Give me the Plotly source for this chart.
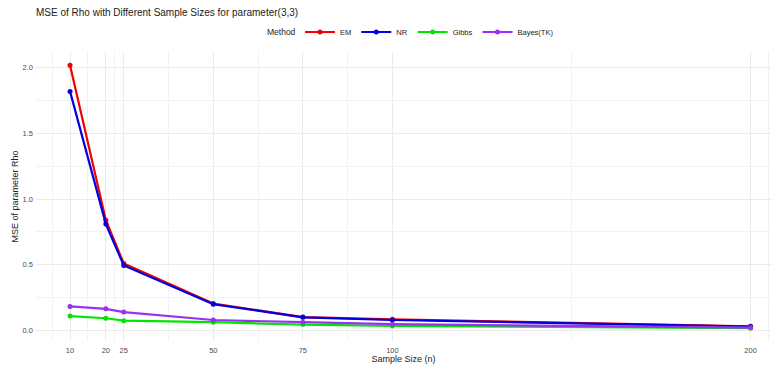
import plotly.graph_objects as go

# Sample sizes and MSE of rho for each estimation method
sample_sizes = [10, 20, 25, 50, 75, 100, 200]
mse_em = [2.02, 0.84, 0.51, 0.205, 0.102, 0.085, 0.032]
mse_nr = [1.82, 0.81, 0.495, 0.200, 0.100, 0.080, 0.030]
mse_gibbs = [0.11, 0.093, 0.075, 0.063, 0.045, 0.035, 0.018]
mse_bayes = [0.183, 0.165, 0.14, 0.08, 0.063, 0.048, 0.022]

methods = ["EM", "NR", "Gibbs", "Bayes(TK)"]
colors = ["#F00000", "#0000E0", "#00E600", "#9B30F0"]
series = [mse_em, mse_nr, mse_gibbs, mse_bayes]

x_ticks = [10, 20, 25, 50, 75, 100, 200]
x_minor = [5, 15, 22.5, 37.5, 62.5, 87.5, 150, 205]
y_ticks = [0.0, 0.5, 1.0, 1.5, 2.0]
y_minor = [0.25, 0.75, 1.25, 1.75]

font_family = "Liberation Sans, Arial, sans-serif"

W, H = 771, 367
L, R, T, B = 36, 0, 52, 26
plot_w, plot_h = W - L - R, H - T - B
legend_row_y = 1 + (T - 32) / plot_h  # legend row sits 32 px below the top edge

fig = go.Figure()
for name, col, vals in zip(methods, colors, series):
    fig.add_trace(go.Scatter(
        x=sample_sizes, y=vals, name=name, mode="lines+markers",
        line=dict(color=col, width=2.2),
        marker=dict(color=col, size=5),
    ))

fig.update_layout(
    width=W, height=H,
    margin=dict(l=L, r=R, t=T, b=B),
    paper_bgcolor="white", plot_bgcolor="white",
    font=dict(family=font_family, color="#222222"),
    title=dict(
        text="MSE of Rho with Different Sample Sizes for parameter(3,3)",
        x=L / W, xanchor="left", y=1 - 12 / H, yanchor="middle",
        font=dict(size=10, color="#222222"),
    ),
    legend=dict(
        orientation="h", x=(300 - L) / plot_w, xanchor="left",
        y=legend_row_y, yanchor="middle",
        font=dict(size=7.5, color="#222222"),
        itemwidth=30, tracegroupgap=0,
    ),
    showlegend=True,
    annotations=[dict(
        text="Method", xref="paper", yref="paper",
        x=(298 - L) / plot_w, y=legend_row_y, xanchor="right", yanchor="middle",
        showarrow=False, font=dict(size=8.5, color="#222222"),
    )],
)

fig.update_xaxes(
    range=[0.5, 205.7], tickmode="array", tickvals=x_ticks,
    ticktext=[str(v) for v in x_ticks],
    showgrid=True, gridcolor="#EBEBEB", gridwidth=1,
    minor=dict(tickmode="array", tickvals=x_minor, showgrid=True,
               gridcolor="#F2F2F2", gridwidth=0.6),
    zeroline=False, showline=False, ticks="", ticklabelstandoff=3,
    tickfont=dict(size=7.5, color="#4D4D4D"),
    title=dict(text="Sample Size (n)", font=dict(size=9, color="#222222"), standoff=0),
)
fig.update_yaxes(
    range=[-0.08, 2.12], tickmode="array", tickvals=y_ticks,
    ticktext=["%.1f" % v for v in y_ticks],
    showgrid=True, gridcolor="#EBEBEB", gridwidth=1,
    minor=dict(tickmode="array", tickvals=y_minor, showgrid=True,
               gridcolor="#F2F2F2", gridwidth=0.6),
    zeroline=False, showline=False, ticks="", ticklabelstandoff=2,
    tickfont=dict(size=7.5, color="#4D4D4D"),
    title=dict(text="MSE of parameter Rho", font=dict(size=9, color="#222222"), standoff=2),
)

fig.write_html("out.html")
